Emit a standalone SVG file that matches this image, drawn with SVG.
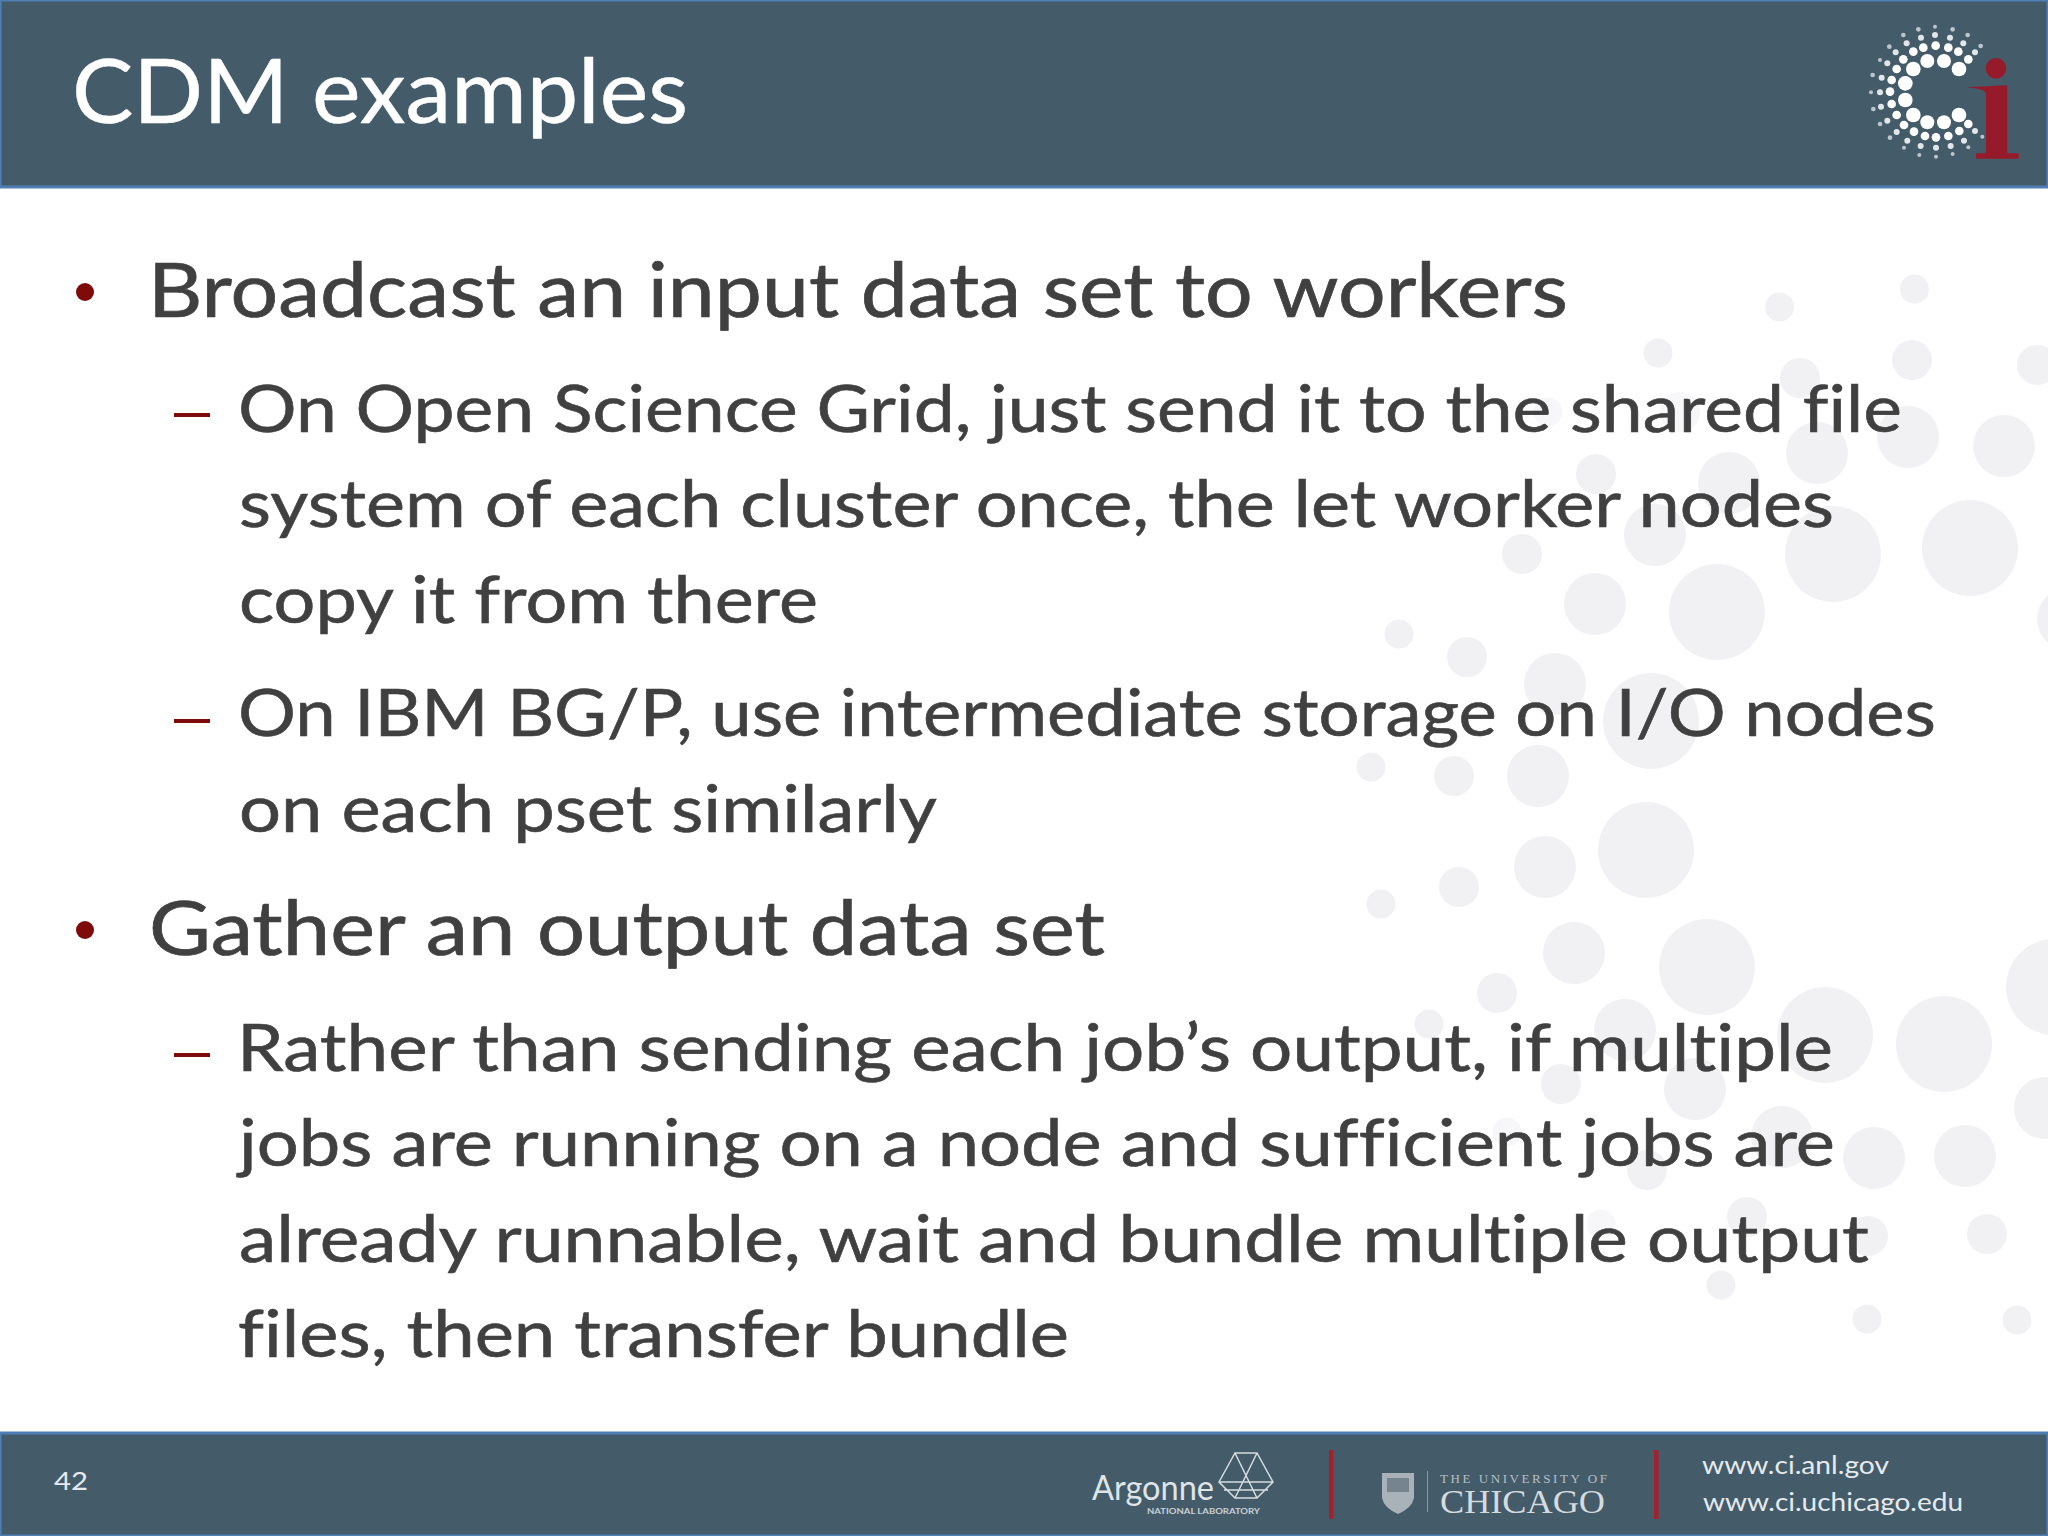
<svg xmlns="http://www.w3.org/2000/svg" width="2048" height="1536" viewBox="0 0 2048 1536">
<style>
.band{fill:#445b6a;stroke:#4f7eb5;stroke-width:3}
.dots circle{fill:#f1f0f3}
.dots .faint{fill:#f7f6f8}
text{font-family:"Lato","Carlito","Open Sans",sans-serif;font-variant-ligatures:none}
.title{font-size:90px;fill:#fff;stroke:#fff;stroke-width:.5}
.l1{font-size:76px;fill:#404040;stroke:#404040;stroke-width:.7}
.l2{font-size:66px;fill:#404040;stroke:#404040;stroke-width:.6}
.foot{font-size:25px;fill:#e6eaed}
.red{fill:#7f0a0a}
.bar{fill:#a3202c}
.logo circle{fill:#fff}
.arg{fill:none;stroke:#d5dbdf;stroke-width:1.5}
</style>
<rect width="2048" height="1536" fill="#fff"/>
<g class="dots">
<circle class="faint" cx="1548" cy="412" r="14.5"/><circle class="faint" cx="1680" cy="412" r="20"/><circle class="faint" cx="1450" cy="507" r="14.5"/>
<circle cx="1914.5" cy="289" r="14.5"/><circle cx="1779.5" cy="307" r="14.5"/><circle cx="1658" cy="353" r="14.5"/><circle cx="1912" cy="360" r="20"/><circle cx="2037" cy="365" r="20"/><circle cx="1800" cy="378" r="20"/><circle cx="1908" cy="437" r="31"/><circle cx="2004" cy="446" r="31"/><circle cx="1817" cy="453" r="31"/><circle cx="1596" cy="474" r="20"/><circle cx="1729" cy="483" r="31"/><circle cx="1655" cy="535" r="31"/><circle cx="1833" cy="554" r="48"/><circle cx="1970" cy="548" r="48"/><circle cx="1522" cy="554" r="20"/><circle cx="1595" cy="604" r="31"/><circle cx="1717" cy="612" r="48"/><circle cx="2068" cy="619" r="31"/><circle cx="1399" cy="634" r="14.5"/><circle cx="1467" cy="657" r="20"/><circle cx="1555" cy="684" r="31"/><circle cx="1651" cy="721" r="48"/><circle cx="1371" cy="767" r="14.5"/><circle cx="1454" cy="776" r="20"/><circle cx="1538" cy="776" r="31"/><circle cx="1646" cy="850" r="48"/><circle cx="1545" cy="867" r="31"/><circle cx="1459" cy="887" r="20"/><circle cx="1381" cy="904" r="14.5"/><circle cx="1574" cy="953" r="31"/><circle cx="1707" cy="967" r="48"/><circle cx="2054" cy="987" r="48"/><circle cx="1497" cy="993" r="20"/><circle cx="1625" cy="1030" r="31"/><circle cx="1825" cy="1035" r="48"/><circle cx="1944" cy="1044" r="48"/><circle cx="1429" cy="1024" r="14.5"/><circle cx="2045" cy="1108" r="31"/><circle cx="1561" cy="1084" r="20"/><circle cx="1695" cy="1089" r="31"/><circle cx="1782" cy="1137" r="31"/><circle cx="1874" cy="1158" r="31"/><circle cx="1965" cy="1156" r="31"/><circle class="faint" cx="1507" cy="1132" r="14.5"/><circle cx="1647" cy="1170" r="20"/><circle cx="1747" cy="1217" r="20"/><circle class="faint" cx="1601" cy="1224" r="14.5"/><circle cx="1868" cy="1236" r="20"/><circle cx="1987" cy="1234" r="20"/><circle cx="1721" cy="1285" r="14.5"/><circle cx="1867" cy="1319" r="14.5"/><circle cx="2017" cy="1320" r="14.5"/>
</g>
<rect class="band" x="0" y="0" width="2048" height="187"/>
<rect class="band" x="0" y="1433" width="2048" height="103"/>
<text class="title" x="72" y="123" textLength="616" lengthAdjust="spacingAndGlyphs">CDM examples</text>
<g id="ci-logo" class="logo" transform="translate(1800 0) scale(.3333)">
<g><circle cx="340" cy="207" r="22"/><circle cx="382" cy="183" r="21"/><circle cx="432" cy="183" r="21"/><circle cx="477" cy="207" r="22"/><circle cx="316" cy="250" r="22"/><circle cx="316" cy="300" r="22"/><circle cx="340" cy="345" r="22"/><circle cx="382" cy="367" r="21"/><circle cx="432" cy="367" r="21"/><circle cx="477" cy="345" r="22"/></g>
<g><circle cx="290" cy="207" r="13"/><circle cx="310" cy="178" r="13"/><circle cx="340" cy="155" r="13"/><circle cx="370" cy="143" r="13"/><circle cx="407" cy="137" r="13"/><circle cx="445" cy="143" r="13"/><circle cx="475" cy="155" r="13"/><circle cx="505" cy="178" r="13"/><circle cx="275" cy="240" r="13"/><circle cx="270" cy="275" r="13"/><circle cx="275" cy="312" r="13"/><circle cx="290" cy="345" r="13"/><circle cx="312" cy="375" r="13"/><circle cx="342" cy="395" r="13"/><circle cx="375" cy="408" r="13"/><circle cx="408" cy="412" r="13"/><circle cx="445" cy="408" r="13"/><circle cx="478" cy="393" r="13"/><circle cx="505" cy="372" r="13"/></g>
<g opacity=".85"><circle cx="287" cy="157" r="9"/><circle cx="320" cy="130" r="9"/><circle cx="363" cy="113" r="9"/><circle cx="405" cy="105" r="9"/><circle cx="450" cy="113" r="9"/><circle cx="490" cy="130" r="9"/><circle cx="525" cy="157" r="9"/><circle cx="262" cy="190" r="9"/><circle cx="245" cy="233" r="9"/><circle cx="240" cy="277" r="9"/><circle cx="243" cy="320" r="9"/><circle cx="262" cy="362" r="9"/><circle cx="290" cy="396" r="9"/><circle cx="322" cy="422" r="9"/><circle cx="362" cy="438" r="9"/><circle cx="408" cy="443" r="9"/><circle cx="452" cy="438" r="9"/><circle cx="492" cy="422" r="9"/><circle cx="525" cy="393" r="9"/></g>
<g opacity=".65"><circle cx="268" cy="140" r="7"/><circle cx="310" cy="105" r="7"/><circle cx="355" cy="88" r="7"/><circle cx="405" cy="80" r="6"/><circle cx="458" cy="88" r="7"/><circle cx="503" cy="105" r="7"/><circle cx="542" cy="138" r="7"/><circle cx="240" cy="180" r="6"/><circle cx="218" cy="225" r="7"/><circle cx="213" cy="277" r="6"/><circle cx="220" cy="327" r="7"/><circle cx="240" cy="372" r="7"/><circle cx="270" cy="413" r="7"/><circle cx="312" cy="443" r="6"/><circle cx="358" cy="465" r="6"/><circle cx="408" cy="470" r="6"/><circle cx="458" cy="462" r="6"/><circle cx="505" cy="442" r="6"/><circle cx="547" cy="410" r="6"/></g>
<circle cx="588" cy="205" r="31" style="fill:#961b2a"/>
<path d="M498 262L622 256V460H656V476H528V460H558V282Q556 266 498 262Z" fill="#961b2a"/>
</g>
<g id="bullets">
<circle class="red" cx="85" cy="292" r="9"/><circle class="red" cx="85" cy="930" r="9"/>
<rect class="red" x="174" y="413" width="36" height="4"/><rect class="red" x="174" y="719" width="36" height="4"/><rect class="red" x="174" y="1053" width="36" height="4"/>
</g>
<g id="body">
<text class="l1" x="148" y="317" textLength="1420" lengthAdjust="spacingAndGlyphs">Broadcast an input data set to workers</text>
<text class="l2" x="238" y="432" textLength="1664" lengthAdjust="spacingAndGlyphs">On Open Science Grid, just send it to the shared file</text>
<text class="l2" x="239" y="527" textLength="1595" lengthAdjust="spacingAndGlyphs">system of each cluster once, the let worker nodes</text>
<text class="l2" x="239" y="623" textLength="579" lengthAdjust="spacingAndGlyphs">copy it from there</text>
<text class="l2" x="238" y="736" textLength="1698" lengthAdjust="spacingAndGlyphs">On IBM BG/P, use intermediate storage on I/O nodes</text>
<text class="l2" x="239" y="832" textLength="698" lengthAdjust="spacingAndGlyphs">on each pset similarly</text>
<text class="l1" x="149" y="955" textLength="956" lengthAdjust="spacingAndGlyphs">Gather an output data set</text>
<text class="l2" x="237" y="1071" textLength="1596" lengthAdjust="spacingAndGlyphs">Rather than sending each job’s output, if multiple</text>
<text class="l2" x="239" y="1166" textLength="1596" lengthAdjust="spacingAndGlyphs">jobs are running on a node and sufficient jobs are</text>
<text class="l2" x="239" y="1262" textLength="1630" lengthAdjust="spacingAndGlyphs">already runnable, wait and bundle multiple output</text>
<text class="l2" x="238" y="1357" textLength="831" lengthAdjust="spacingAndGlyphs">files, then transfer bundle</text>
</g>
<g id="footer">
<text class="foot" x="54" y="1490" textLength="34" lengthAdjust="spacingAndGlyphs">42</text>
<g id="argonne">
<text x="1092" y="1500" font-size="34" fill="#dfe4e7" textLength="122" lengthAdjust="spacingAndGlyphs">Argonne</text>
<path class="arg" d="M1219 1482L1235 1453H1257L1273 1482L1257 1498H1235ZM1235 1453L1257 1498M1257 1453L1235 1498M1219 1482H1273M1224 1490H1268"/>
<text x="1147" y="1514" font-size="7" font-weight="700" fill="#c9d0d5" textLength="113" lengthAdjust="spacingAndGlyphs">NATIONAL LABORATORY</text>
</g>
<rect class="bar" x="1329" y="1450" width="4.500" height="69"/>
<g id="chicago">
<path d="M1382 1473H1414V1498Q1412 1508 1398 1514Q1384 1508 1382 1498Z" fill="#a8b2b8"/>
<rect x="1387" y="1478" width="22" height="14" fill="#75848e"/>
<rect x="1427" y="1471" width="1" height="41" fill="#8a98a2"/>
<text x="1440" y="1483" font-size="13" fill="#b6bfc5" textLength="167" lengthAdjust="spacing" style="font-family:'Liberation Serif',serif">THE UNIVERSITY OF</text>
<text x="1440" y="1513" font-size="33" fill="#d5dadd" textLength="165" lengthAdjust="spacingAndGlyphs" style="font-family:'Liberation Serif',serif">CHICAGO</text>
</g>
<rect class="bar" x="1654" y="1450" width="4.500" height="69"/>
<text class="foot" x="1702" y="1474" textLength="187" lengthAdjust="spacingAndGlyphs">www.ci.anl.gov</text>
<text class="foot" x="1703" y="1511" textLength="260" lengthAdjust="spacingAndGlyphs">www.ci.uchicago.edu</text>
</g>
</svg>
